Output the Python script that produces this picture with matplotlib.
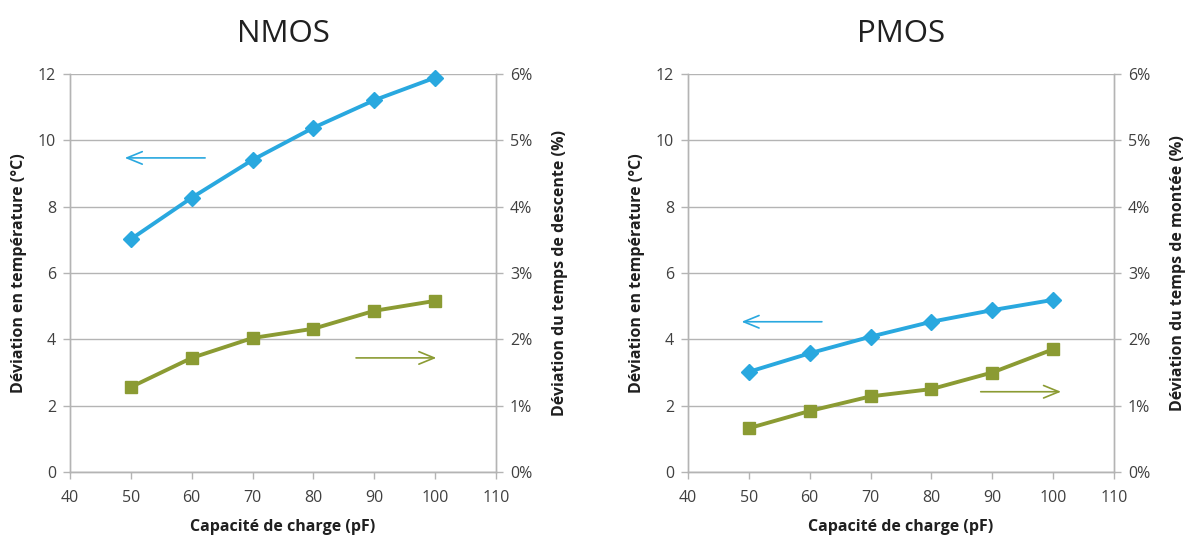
import matplotlib
matplotlib.use("Agg")
import matplotlib.pyplot as plt
from matplotlib.ticker import FuncFormatter

plt.rcParams['font.family'] = ['Open Sans', 'DejaVu Sans']

capacity = [50, 60, 70, 80, 90, 100]
nmos_temp = [7.02, 8.27, 9.41, 10.38, 11.21, 11.89]
nmos_fall = [1.28, 1.72, 2.02, 2.16, 2.43, 2.58]
pmos_temp = [3.02, 3.58, 4.08, 4.53, 4.88, 5.19]
pmos_rise = [0.66, 0.92, 1.14, 1.25, 1.50, 1.85]

titles = ["NMOS", "PMOS"]
right_labels = ["Déviation du temps de descente (%)", "Déviation du temps de montée (%)"]
left_label = "Déviation en température (°C)"
x_label = "Capacité de charge (pF)"

BLUE = '#29A8DF'
GREEN = '#8B9B33'
GRID = '#B4B4B4'
TXT = '#404040'

fig = plt.figure(figsize=(11.94, 5.4), dpi=100)

panels = [
    (70, nmos_temp, nmos_fall, ((62.2, 9.47), (49.0, 9.47)), ((87.0, 3.44), (100.2, 3.44))),
    (688, pmos_temp, pmos_rise, ((62.0, 4.53), (48.8, 4.53)), ((88.1, 2.42), (101.3, 2.42))),
]

for i, (left_px, temp, dev, barrow, garrow) in enumerate(panels):
    ax = fig.add_axes([left_px / 1194, 1 - 472 / 540, 426 / 1194, 398 / 540])
    ax2 = ax.twinx()
    ax.set_xlim(40, 110)
    ax.set_ylim(0, 12)
    ax2.set_ylim(0, 6)
    ax.set_xticks(range(40, 111, 10))
    ax.set_yticks(range(0, 13, 2))
    ax2.set_yticks(range(0, 7, 1))
    ax2.yaxis.set_major_formatter(FuncFormatter(lambda v, p: f"{int(v)}%"))
    ax.grid(axis='y', color=GRID, linewidth=1.0)
    ax.set_axisbelow(True)
    for a in (ax, ax2):
        for s in a.spines.values():
            s.set_color(GRID)
            s.set_linewidth(1.0)
        a.spines['top'].set_visible(False)
        a.tick_params(colors=GRID, labelcolor=TXT, labelsize=11.5, length=5, width=1, pad=5)
    ax.tick_params(axis='x', pad=8)
    ax.plot(capacity, temp, color=BLUE, linewidth=2.8, marker='D', markersize=8,
            zorder=3, clip_on=False)
    ax2.plot(capacity, dev, color=GREEN, linewidth=2.8, marker='s', markersize=9,
             zorder=3, clip_on=False)
    ax.annotate('', xy=barrow[1], xytext=barrow[0],
                arrowprops=dict(arrowstyle='->,head_length=1.1,head_width=0.45', color=BLUE,
                                lw=1.2, shrinkA=0, shrinkB=0))
    ax.annotate('', xy=garrow[1], xytext=garrow[0],
                arrowprops=dict(arrowstyle='->,head_length=1.1,head_width=0.45', color=GREEN,
                                lw=1.2, shrinkA=0, shrinkB=0))
    ax.set_title(titles[i], fontsize=22.5, color='#202020', pad=23)
    ax.set_xlabel(x_label, fontsize=11.5, fontweight='bold', color='#202020', labelpad=9)
    ax.set_ylabel(left_label, fontsize=11.5, fontweight='bold', color='#202020', labelpad=8)
    ax2.set_ylabel(right_labels[i], fontsize=11.5, fontweight='bold', color='#202020', labelpad=14)

fig.savefig('out.png', dpi=100)
